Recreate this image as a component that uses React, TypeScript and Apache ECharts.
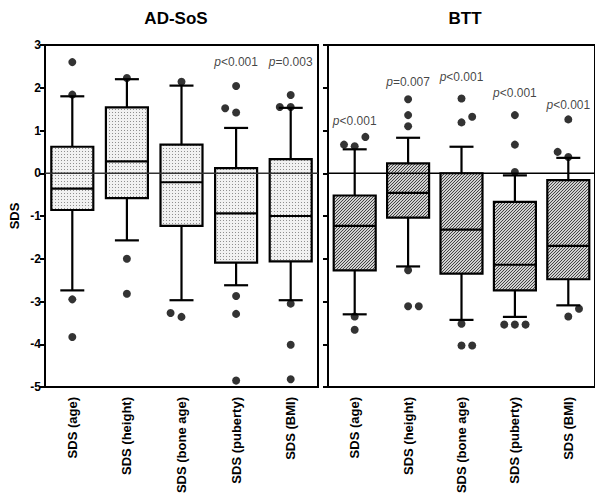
import React, { useEffect, useRef } from "react";
import * as echarts from "echarts";

const categories = ["SDS (age)", "SDS (height)", "SDS (bone age)", "SDS (puberty)", "SDS (BMI)"];
const yTicks = { min: -5, max: 3, interval: 1 };

// [min whisker, Q1, median, Q3, max whisker]
const adSosBoxes = [
  [-2.74, -0.86, -0.36, 0.62, 1.8],
  [-1.57, -0.58, 0.28, 1.54, 2.2],
  [-2.97, -1.23, -0.21, 0.67, 2.05],
  [-2.62, -2.09, -0.94, 0.12, 1.06],
  [-2.97, -2.06, -1.0, 0.33, 1.53],
];
const bttBoxes = [
  [-3.3, -2.27, -1.23, -0.52, 0.56],
  [-2.18, -1.04, -0.46, 0.23, 0.83],
  [-3.43, -2.35, -1.32, 0.0, 0.62],
  [-3.36, -2.74, -2.14, -0.67, -0.05],
  [-3.09, -2.48, -1.7, -0.16, 0.36],
];

// [category position (with jitter), value]
const adSosOutliers = [
  [0, 2.6], [0, 1.84], [0, -2.95], [0, -3.83],
  [1, 2.23], [1, -2.0], [1, -2.82],
  [2, 2.14], [1.8, -3.27], [2, -3.36],
  [3, 2.04], [2.8, 1.52], [3, 1.42], [3, -2.87], [3, -3.29], [3, -4.85],
  [4, 1.83], [3.8, 1.55], [4, 1.55], [4, -3.05], [4, -4.01], [4, -4.82],
];
const bttOutliers = [
  [-0.2, 0.67], [0, 0.63], [0.2, 0.85], [0, -3.35], [0, -3.66],
  [1, 1.1], [1, 1.36], [1, 1.73], [1, -2.27], [1, -3.11], [1.2, -3.11],
  [2, 1.75], [2, 1.19], [2.2, 1.32], [2, -3.52], [2, -4.03], [2.2, -4.03],
  [3, 0.03], [3, 0.67], [3, 1.36], [2.8, -3.54], [3, -3.54], [3.2, -3.54],
  [4, 0.38], [3.8, 0.5], [4, 1.26], [4.2, -3.17], [4, -3.35],
];

// [category position, label height, label]
const adSosPLabels: [number, number, string][] = [
  [3, 2.6, "<0.001"],
  [4, 2.6, "=0.003"],
];
const bttPLabels: [number, number, string][] = [
  [0, 1.23, "<0.001"],
  [1, 2.13, "=0.007"],
  [2, 2.24, "<0.001"],
  [3, 1.88, "<0.001"],
  [4, 1.6, "<0.001"],
];

const FONT = "'Liberation Sans', Arial, Helvetica, sans-serif";

function makeDots() {
  const c = document.createElement("canvas");
  c.width = 3;
  c.height = 3;
  const g = c.getContext("2d")!;
  g.fillStyle = "#f1f1f1";
  g.fillRect(0, 0, 3, 3);
  g.fillStyle = "#8f8f8f";
  g.fillRect(1, 1, 1, 1);
  return c;
}
function makeHatch() {
  const c = document.createElement("canvas");
  c.width = 3;
  c.height = 3;
  const g = c.getContext("2d")!;
  g.fillStyle = "#d0d0d0";
  g.fillRect(0, 0, 3, 3);
  g.fillStyle = "#444";
  g.fillRect(2, 0, 1, 1);
  g.fillRect(1, 1, 1, 1);
  g.fillRect(0, 2, 1, 1);
  return c;
}

export default function App() {
  const ref = useRef<HTMLDivElement>(null);
  useEffect(() => {
    if (!ref.current) return;
    const chart = echarts.init(ref.current, null, { renderer: "svg" });
    const dots = makeDots();
    const hatch = makeHatch();

    const boxSeries = (boxes: number[][], idx: number, pattern: HTMLCanvasElement) => ({
      type: "custom",
      xAxisIndex: idx,
      yAxisIndex: idx,
      z: 2,
      data: boxes.map((b, i) => [i, ...b]),
      encode: { x: 0, y: [1, 2, 3, 4, 5] },
      renderItem: (_p: any, api: any) => {
        const x = api.value(0);
        const lo = api.coord([x, api.value(1)]);
        const q1 = api.coord([x, api.value(2)]);
        const md = api.coord([x, api.value(3)]);
        const q3 = api.coord([x, api.value(4)]);
        const hi = api.coord([x, api.value(5)]);
        const cx = lo[0];
        const bw = 42;
        const cw = 24;
        const ls = { stroke: "#000", lineWidth: 2.2 };
        return {
          type: "group",
          children: [
            { type: "line", shape: { x1: cx, y1: hi[1], x2: cx, y2: q3[1] }, style: ls },
            { type: "line", shape: { x1: cx, y1: q1[1], x2: cx, y2: lo[1] }, style: ls },
            { type: "line", shape: { x1: cx - cw / 2, y1: hi[1], x2: cx + cw / 2, y2: hi[1] }, style: ls },
            { type: "line", shape: { x1: cx - cw / 2, y1: lo[1], x2: cx + cw / 2, y2: lo[1] }, style: ls },
            {
              type: "rect",
              shape: { x: cx - bw / 2, y: q3[1], width: bw, height: q1[1] - q3[1] },
              style: { fill: { image: pattern, repeat: "repeat" }, stroke: "#000", lineWidth: 2.2 },
            },
            { type: "line", shape: { x1: cx - bw / 2, y1: md[1], x2: cx + bw / 2, y2: md[1] }, style: ls },
          ],
        };
      },
    });

    const zeroLine = (idx: number, color: string) => ({
      type: "line",
      xAxisIndex: idx + 2,
      yAxisIndex: idx,
      z: 5,
      symbol: "none",
      silent: true,
      data: [[-0.5, 0], [4.5, 0]],
      lineStyle: { color, width: 1.6 },
    });

    const outlierSeries = (pts: number[][], idx: number) => ({
      type: "scatter",
      xAxisIndex: idx + 2,
      yAxisIndex: idx,
      z: 6,
      symbolSize: 8,
      itemStyle: { color: "#000" },
      data: pts,
    });

    const pSeries = (lbls: [number, number, string][], idx: number) => ({
      type: "scatter",
      xAxisIndex: idx + 2,
      yAxisIndex: idx,
      z: 7,
      symbolSize: 1,
      itemStyle: { color: "rgba(0,0,0,0)" },
      data: lbls.map((l) => [l[0], l[1], l[2]]),
      label: {
        show: true,
        position: "inside",
        formatter: (p: any) => "{i|p}" + p.data[2],
        color: "#111",
        fontSize: 12,
        fontFamily: FONT,
        rich: { i: { fontStyle: "italic", fontSize: 12, color: "#111", fontFamily: FONT } },
      },
    });

    const catAxis = (gridIndex: number) => ({
      type: "category",
      gridIndex,
      data: categories,
      axisLine: { onZero: false, lineStyle: { color: "#000", width: 2 } },
      axisTick: { alignWithLabel: true, length: 6, lineStyle: { color: "#000", width: 2 } },
      axisLabel: {
        rotate: 90,
        interval: 0,
        margin: 10,
        color: "#000",
        fontSize: 13,
        fontWeight: "bold",
        fontFamily: FONT,
      },
    });
    const valXAxis = (gridIndex: number) => ({
      type: "value",
      gridIndex,
      min: -0.5,
      max: 4.5,
      show: false,
    });
    const yAxis = (gridIndex: number, labels: boolean) => ({
      type: "value",
      gridIndex,
      position: "left",
      min: yTicks.min,
      max: yTicks.max,
      interval: yTicks.interval,
      name: labels ? "SDS" : "",
      nameLocation: "middle",
      nameGap: 24,
      nameTextStyle: { fontSize: 13, fontWeight: "bold", color: "#000", fontFamily: FONT },
      axisLine: { show: true, onZero: false, lineStyle: { color: "#000", width: 2 } },
      axisTick: { show: true, inside: false, length: 5, lineStyle: { color: "#000", width: 2 } },
      splitLine: { show: false },
      axisLabel: {
        show: labels,
        margin: 4,
        color: "#000",
        fontSize: 12,
        fontWeight: "bold",
        fontFamily: FONT,
      },
    });

    chart.setOption({
      animation: false,
      backgroundColor: "#fff",
      grid: [
        { left: 45, top: 45, width: 273, height: 342, show: true, borderColor: "#000", borderWidth: 2 },
        { left: 328, top: 45, width: 272, height: 342, show: true, borderColor: "#000", borderWidth: 2 },
      ],
      xAxis: [catAxis(0), catAxis(1), valXAxis(0), valXAxis(1)],
      yAxis: [yAxis(0, true), yAxis(1, false)],
      graphic: [
        {
          type: "text",
          x: 176,
          y: 18,
          style: {
            text: "AD-SoS",
            textAlign: "center",
            textVerticalAlign: "middle",
            fontSize: 17,
            fontWeight: "bold",
            fontFamily: FONT,
            fill: "#000",
          },
        },
        {
          type: "text",
          x: 465,
          y: 18,
          style: {
            text: "BTT",
            textAlign: "center",
            textVerticalAlign: "middle",
            fontSize: 17,
            fontWeight: "bold",
            fontFamily: FONT,
            fill: "#000",
          },
        },
      ],
      series: [
        boxSeries(adSosBoxes, 0, dots),
        boxSeries(bttBoxes, 1, hatch),
        zeroLine(0, "#333"),
        zeroLine(1, "#000"),
        outlierSeries(adSosOutliers, 0),
        outlierSeries(bttOutliers, 1),
        pSeries(adSosPLabels, 0),
        pSeries(bttPLabels, 1),
      ],
    });
    return () => chart.dispose();
  }, []);
  return (
    <div
      ref={ref}
      style={{ position: "fixed", left: 0, top: 0, width: 595, height: 497, background: "#fff" }}
    />
  );
}
